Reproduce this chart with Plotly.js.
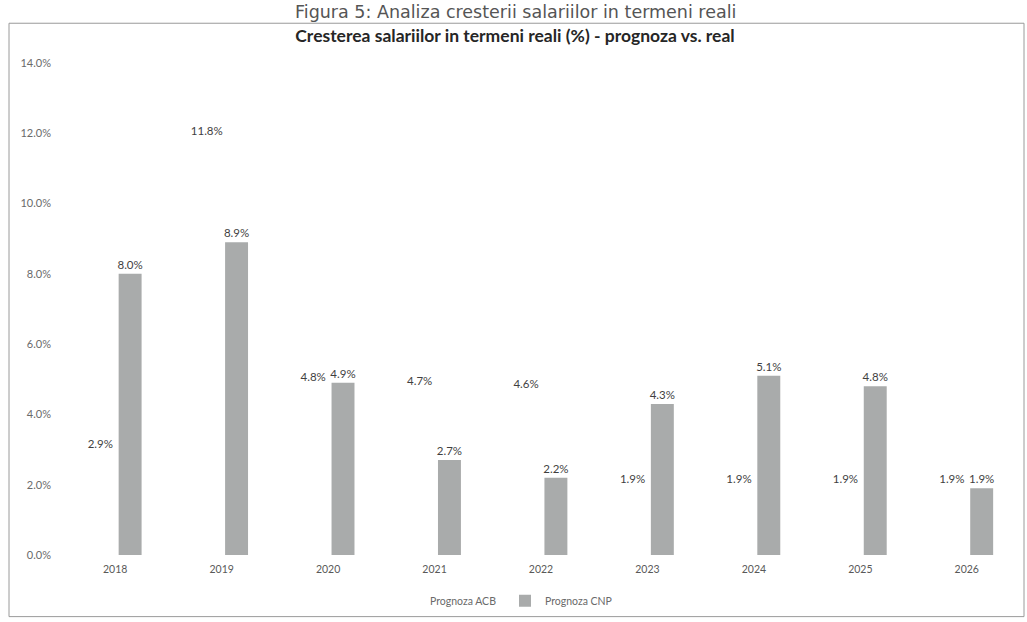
<!DOCTYPE html>
<html>
<head>
<meta charset="utf-8">
<script src="https://cdn.plot.ly/plotly-3.0.1.min.js"></script>
<style>
  html, body { margin: 0; padding: 0; background: #ffffff; }
  #chart { width: 1027px; height: 622px; }
</style>
</head>
<body>
<div id="chart"></div>
<script>
const years = ['2018', '2019', '2020', '2021', '2022', '2023', '2024', '2025', '2026'];
const prognozaACB = [2.9, 11.8, 4.8, 4.7, 4.6, 1.9, 1.9, 1.9, 1.9];
const prognozaCNP = [8.0, 8.9, 4.9, 2.7, 2.2, 4.3, 5.1, 4.8, 1.9];
const seriesNames = ['Prognoza ACB', 'Prognoza CNP'];
const yTicks = [0, 2, 4, 6, 8, 10, 12, 14];
const chartTitle = 'Cresterea salariilor in termeni reali (%) - prognoza vs. real';
const figureCaption = 'Figura 5: Analiza cresterii salariilor in termeni reali';

const W = 1027, H = 622;
const L = 62, R = 7, T = 63, B = 64;
const pw = W - L - R, ph = H - T - B;
const px = x => (x - L) / pw;          // pixel x -> paper x
const py = y => (H - B - y) / ph;      // pixel y -> paper y

const labelFont = { family: 'Lato, "Open Sans", sans-serif', size: 11.5, color: '#3f3f3f' };

const traces = [
  {
    type: 'bar', name: seriesNames[0], x: years, y: prognozaACB,
    marker: { color: '#ffffff' },
    texttemplate: '%{y:.1f}%', textposition: 'outside', cliponaxis: false,
    constraintext: 'none', textfont: labelFont, hoverinfo: 'x+y'
  },
  {
    type: 'bar', name: seriesNames[1], x: years, y: prognozaCNP,
    marker: { color: '#a9abab' },
    texttemplate: '%{y:.1f}%', textposition: 'outside', cliponaxis: false,
    constraintext: 'none', textfont: labelFont, hoverinfo: 'x+y'
  }
];

const layout = {
  width: W, height: H,
  margin: { l: L, r: R, t: T, b: B, pad: 0 },
  paper_bgcolor: '#ffffff', plot_bgcolor: '#ffffff',
  font: { family: 'Lato, "Open Sans", sans-serif', color: '#595959' },
  barmode: 'group', bargap: 0.44, bargroupgap: 0.23,
  showlegend: true,
  title: {
    text: '<b>' + chartTitle + '</b>',
    x: px(515), xref: 'paper', xanchor: 'center',
    y: 1 - 36 / H, yref: 'container', yanchor: 'middle',
    font: { family: 'Lato, "Open Sans", sans-serif', size: 17.5, color: '#262626' }
  },
  xaxis: {
    type: 'category', showgrid: false, zeroline: false, showline: false,
    ticks: '', tickfont: { size: 10.5, color: '#595959' }, ticklabelstandoff: 6
  },
  yaxis: {
    range: [0, 14], tickvals: yTicks, ticktext: yTicks.map(v => v.toFixed(1) + '%'),
    showgrid: false, zeroline: false, showline: false, ticks: '',
    tickfont: { size: 11, color: '#6a6a6a' }, ticklabelstandoff: 10
  },
  legend: {
    orientation: 'h', x: px(505), xanchor: 'center', y: py(604), yanchor: 'middle',
    font: { size: 10.5, color: '#6a6a6a' }, itemwidth: 30, entrywidth: 70,
    bgcolor: 'rgba(0,0,0,0)'
  },
  annotations: [
    {
      text: figureCaption, xref: 'paper', yref: 'paper',
      x: px(515), y: py(0), xanchor: 'center', yanchor: 'top', showarrow: false,
      font: { family: '"DejaVu Sans", Verdana, sans-serif', size: 17.5, color: '#555555' }
    }
  ],
  shapes: [
    { type: 'rect', xref: 'paper', yref: 'paper', x0: px(9), x1: px(1024), y0: py(620), y1: py(23),
      line: { color: '#9a9a9a', width: 1 }, fillcolor: 'rgba(0,0,0,0)', layer: 'below' }
  ]
};

Plotly.newPlot('chart', traces, layout, { displayModeBar: false, staticPlot: true });
</script>
</body>
</html>
